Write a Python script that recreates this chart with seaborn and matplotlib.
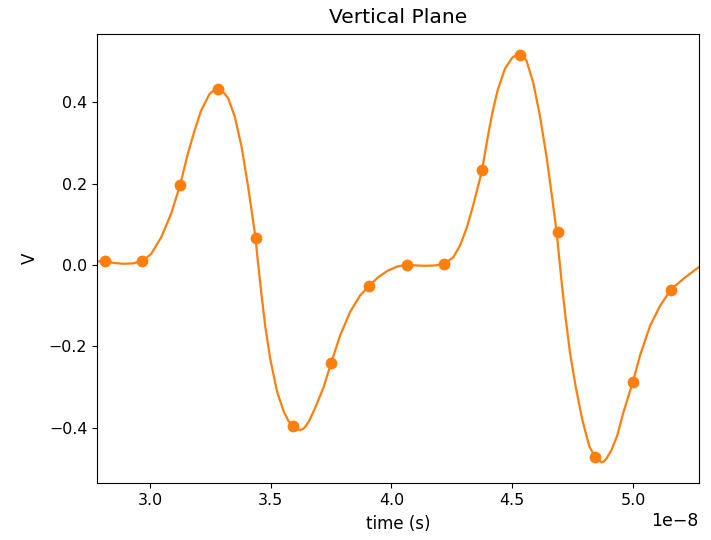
import numpy as np
import pandas as pd
import matplotlib
matplotlib.use("Agg")
import matplotlib.pyplot as plt
import seaborn as sns

# sampled points (time in units of 1e-8 s)
sample_t = [2.8125, 2.96875, 3.125, 3.28125, 3.4375, 3.59375, 3.75, 3.90625,
            4.0625, 4.21875, 4.375, 4.53125, 4.6875, 4.84375, 5.0, 5.15625]
sample_v = [0.009, 0.010, 0.196, 0.432, 0.066, -0.395, -0.241, -0.052,
            0.001, 0.003, 0.232, 0.516, 0.080, -0.472, -0.286, -0.061]

# smooth trace (time in units of 1e-8 s)
trace_t = [2.781, 2.8125, 2.852, 2.891, 2.930, 2.969, 3.005, 3.047, 3.088, 3.125,
           3.157, 3.185, 3.212, 3.247, 3.265, 3.281, 3.295, 3.304, 3.324, 3.352, 3.380,
           3.407, 3.4375, 3.446, 3.461, 3.477, 3.498, 3.527, 3.555, 3.575, 3.594,
           3.608, 3.621, 3.632, 3.642, 3.660, 3.683, 3.718, 3.75, 3.787, 3.828, 3.870, 3.906, 3.945,
           3.984, 4.023, 4.0625, 4.102, 4.141, 4.180, 4.219, 4.256, 4.284, 4.311,
           4.339, 4.375, 4.39, 4.405, 4.42, 4.44, 4.47, 4.50, 4.518, 4.531, 4.545,
           4.560, 4.587, 4.615, 4.643, 4.663, 4.684, 4.705, 4.721, 4.739, 4.763,
           4.790, 4.819, 4.844, 4.858, 4.870, 4.880, 4.890, 4.910, 4.935, 4.960, 5.0, 5.029,
           5.070, 5.112, 5.156, 5.208, 5.250, 5.273]
trace_v = [0.009, 0.009, 0.005, 0.003, 0.004, 0.010, 0.027, 0.068, 0.126, 0.196,
           0.273, 0.330, 0.379, 0.420, 0.429, 0.432, 0.431, 0.424, 0.410, 0.363, 0.289,
           0.191, 0.066, 0.015, -0.067, -0.148, -0.230, -0.312, -0.361, -0.384, -0.397,
           -0.403, -0.405, -0.403, -0.398, -0.382, -0.352, -0.302, -0.241, -0.174, -0.116, -0.075, -0.052, -0.030,
           -0.014, -0.004, 0.001, -0.001, -0.002, -0.001, 0.003, 0.019, 0.048, 0.090,
           0.148, 0.232, 0.285, 0.335, 0.380, 0.430, 0.482, 0.509, 0.515, 0.516, 0.515,
           0.500, 0.447, 0.365, 0.262, 0.175, 0.080, -0.045, -0.130, -0.215, -0.300,
           -0.380, -0.445, -0.472, -0.480, -0.484, -0.482, -0.475, -0.455, -0.418, -0.362, -0.286, -0.222,
           -0.150, -0.100, -0.061, -0.034, -0.015, -0.005]

samples = pd.DataFrame({"t": np.array(sample_t) * 1e-8, "v": sample_v})
trace = pd.DataFrame({"t": np.array(trace_t) * 1e-8, "v": trace_v})

orange = "#ff7f0e"

fig = plt.figure(figsize=(7.11, 5.40), dpi=100)
ax = fig.add_axes([0.1364, 0.1056, 0.8467, 0.8314])

sns.scatterplot(data=samples, x="t", y="v", color=orange, s=72, linewidth=0, ax=ax, zorder=3)
sns.lineplot(data=trace, x="t", y="v", color=orange, linewidth=1.6, ax=ax, zorder=2)

ax.set_xlim(2.781e-8, 5.273e-8)
ax.set_ylim(-0.535, 0.567)
ax.set_xticks(np.array([3.0, 3.5, 4.0, 4.5, 5.0]) * 1e-8)
ax.set_yticks([-0.4, -0.2, 0.0, 0.2, 0.4])
ax.tick_params(labelsize=11.4)
ax.xaxis.get_offset_text().set_fontsize(12.5)
ax.set_title("Vertical Plane", fontsize=14.6, pad=8)
ax.set_xlabel("time (s)", fontsize=12, labelpad=5)
ax.set_ylabel("V", fontsize=12, labelpad=7)

fig.savefig("out.png", dpi=100)
